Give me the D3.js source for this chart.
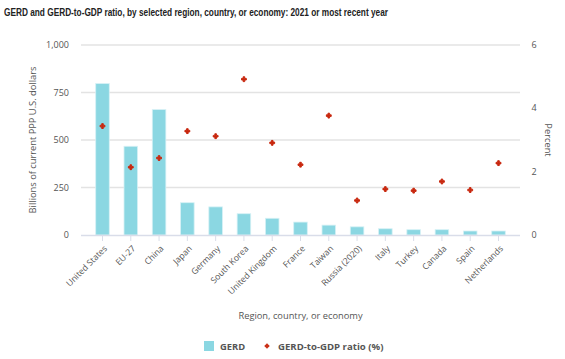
<!DOCTYPE html>
<html>
<head>
<meta charset="utf-8">
<script src="https://cdn.jsdelivr.net/npm/d3@7"></script>
<style>
  body { margin: 0; background: #fff; }
  text { font-family: "Open Sans", "DejaVu Sans", sans-serif; }
</style>
</head>
<body>
<div id="chart"></div>
<script>
// data
const regions = ["United States", "EU-27", "China", "Japan", "Germany", "South Korea",
	"United Kingdom", "France", "Taiwan", "Russia (2020)", "Italy", "Turkey", "Canada", "Spain", "Netherlands"];
const gerd = [797, 467, 660, 170, 148, 112, 88, 68, 52, 43, 33, 28, 28, 21, 21];
const ratio = [3.44, 2.14, 2.43, 3.28, 3.12, 4.92, 2.91, 2.22, 3.77, 1.09, 1.45, 1.40, 1.69, 1.42, 2.27];
const leftTicks = [0, 250, 500, 750, 1000];
const rightTicks = [0, 2, 4, 6];

const W = 565, H = 359;
const margin = {top: 45, right: 45, bottom: 124, left: 81};
const width = W - margin.left - margin.right;
const height = H - margin.top - margin.bottom;

const svg = d3.select("#chart").append("svg")
	.attr("width", W)
	.attr("height", H);

// title (condensed to match the narrow face of the original)
svg.append("text")
	.attr("x", 4)
	.attr("y", 16)
	.attr("textLength", 384)
	.attr("lengthAdjust", "spacingAndGlyphs")
	.style("font-family", "'Liberation Sans', Arial, sans-serif")
	.style("font-weight", "bold")
	.style("font-size", "10.5px")
	.attr("fill", "#222")
	.text("GERD and GERD-to-GDP ratio, by selected region, country, or economy: 2021 or most recent year");

const g = svg.append("g")
	.attr("transform", "translate(" + margin.left + "," + margin.top + ")");

const x = d3.scaleBand()
	.domain(regions)
	.range([0, width])
	.padding(0.52);

const y = d3.scaleLinear()
	.domain([0, 1000])
	.range([height, 0]);

const y2 = d3.scaleLinear()
	.domain([0, 6])
	.range([height, 0]);

// gridlines
g.selectAll(".grid")
	.data(leftTicks.filter(d => d > 0))
	.enter().append("line")
	.attr("class", "grid")
	.attr("x1", 0)
	.attr("x2", width)
	.attr("y1", d => y(d))
	.attr("y2", d => y(d))
	.attr("stroke", "#e3e3e3")
	.attr("stroke-width", 1.3);

// left axis labels
g.selectAll(".ylab")
	.data(leftTicks)
	.enter().append("text")
	.attr("class", "ylab")
	.attr("x", -12)
	.attr("y", d => y(d))
	.attr("dy", "0.35em")
	.attr("text-anchor", "end")
	.style("font-size", "9px")
	.attr("fill", "#555")
	.text(d => d3.format(",")(d));

// right axis labels
g.selectAll(".y2lab")
	.data(rightTicks)
	.enter().append("text")
	.attr("class", "y2lab")
	.attr("x", width + 14)
	.attr("y", d => y2(d))
	.attr("dy", "0.35em")
	.attr("text-anchor", "middle")
	.style("font-size", "9px")
	.attr("fill", "#555")
	.text(d => d);

// bars
g.selectAll(".bar")
	.data(regions)
	.enter().append("rect")
	.attr("class", "bar")
	.attr("x", d => x(d))
	.attr("y", (d, i) => y(gerd[i]))
	.attr("width", x.bandwidth())
	.attr("height", (d, i) => height - y(gerd[i]))
	.attr("fill", "#8bd7e2")
	.attr("stroke", "#d6f1f5")
	.attr("stroke-width", 0.8);

// x axis baseline and ticks
g.append("line")
	.attr("x1", 0)
	.attr("x2", width)
	.attr("y1", height + 0.5)
	.attr("y2", height + 0.5)
	.attr("stroke", "#d9dde9")
	.attr("stroke-width", 1.5);

g.selectAll(".xtick")
	.data(regions)
	.enter().append("line")
	.attr("class", "xtick")
	.attr("x1", d => x(d) + x.bandwidth() / 2)
	.attr("x2", d => x(d) + x.bandwidth() / 2)
	.attr("y1", height + 1)
	.attr("y2", height + 6)
	.attr("stroke", "#d9dde9")
	.attr("stroke-width", 1);

// x labels, rotated
g.selectAll(".xlab")
	.data(regions)
	.enter().append("text")
	.attr("class", "xlab")
	.attr("transform", d => "translate(" + (x(d) + x.bandwidth() / 2 + 3) + "," + (height + 12) + ") rotate(-45)")
	.attr("text-anchor", "end")
	.attr("dy", "0.35em")
	.style("font-size", "8.6px")
	.attr("fill", "#555")
	.text(d => d);

// ratio markers (small rounded plus)
g.selectAll(".dot")
	.data(regions)
	.enter().append("path")
	.attr("class", "dot")
	.attr("d", d3.symbol().type(d3.symbolCross).size(13))
	.attr("transform", (d, i) => "translate(" + (x(d) + x.bandwidth() / 2) + "," + y2(ratio[i]) + ")")
	.attr("fill", "#c8280f")
	.attr("stroke", "#c8280f")
	.attr("stroke-width", 1)
	.attr("stroke-linejoin", "round");

// axis titles
svg.append("text")
	.attr("transform", "translate(36," + (margin.top + height / 2) + ") rotate(-90)")
	.attr("text-anchor", "middle")
	.style("font-size", "9.3px")
	.attr("fill", "#555")
	.text("Billions of current PPP U.S. dollars");

svg.append("text")
	.attr("transform", "translate(545," + (margin.top + height / 2) + ") rotate(90)")
	.attr("text-anchor", "middle")
	.style("font-size", "9.3px")
	.attr("fill", "#555")
	.text("Percent");

svg.append("text")
	.attr("x", margin.left + width / 2)
	.attr("y", 319)
	.attr("text-anchor", "middle")
	.style("font-size", "9.3px")
	.attr("fill", "#555")
	.text("Region, country, or economy");

// legend
const legend = svg.append("g");
legend.append("rect")
	.attr("x", 204)
	.attr("y", 341)
	.attr("width", 10)
	.attr("height", 10)
	.attr("fill", "#8bd7e2");
legend.append("text")
	.attr("x", 220)
	.attr("y", 349.5)
	.style("font-size", "9.4px")
	.style("font-weight", "bold")
	.attr("fill", "#555")
	.text("GERD");
legend.append("path")
	.attr("d", d3.symbol().type(d3.symbolCross).size(9))
	.attr("transform", "translate(267,346)")
	.attr("fill", "#c8280f")
	.attr("stroke", "#c8280f")
	.attr("stroke-width", 0.8)
	.attr("stroke-linejoin", "round");
legend.append("text")
	.attr("x", 278)
	.attr("y", 349.5)
	.style("font-size", "9.6px")
	.style("font-weight", "bold")
	.attr("fill", "#555")
	.text("GERD-to-GDP ratio (%)");
</script>
</body>
</html>
